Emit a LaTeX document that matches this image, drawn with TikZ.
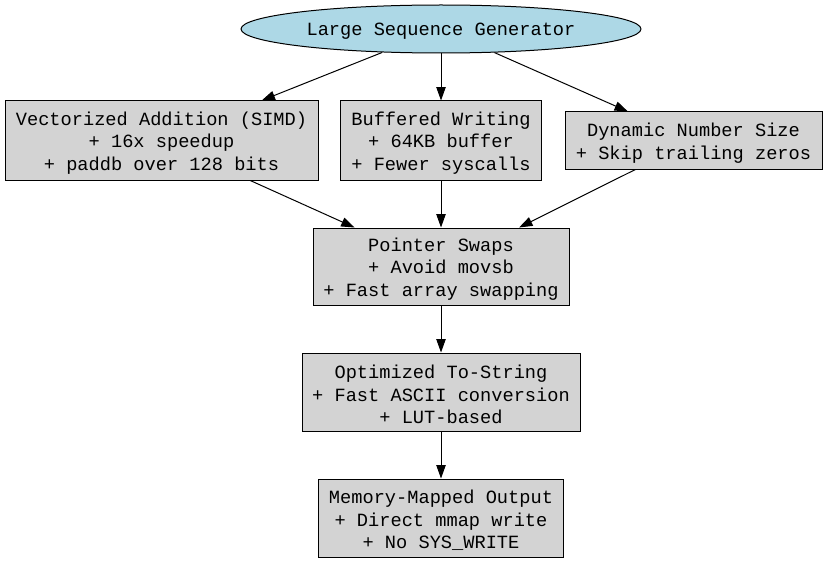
\documentclass[tikz,border=0pt]{standalone}
\usepackage{fontspec}
\newfontfamily\graphfont{Liberation Mono}
\usetikzlibrary{arrows.meta,shapes.geometric}

\definecolor{lightblue}{HTML}{ADD8E6}
\definecolor{lightgray}{HTML}{D3D3D3}

% taller first line, pushes the text block down a little
\newcommand{\topline}{\rule{0pt}{14pt}}

\tikzset{
    stage/.style={draw, fill=lightgray, line width=0.75pt, inner sep=0pt, align=center,
        font=\graphfont\fontsize{14}{16.8}\selectfont},
    source/.style={stage, ellipse, fill=lightblue,
        execute at begin node={\rule{0pt}{13pt}}},
    flow/.style={-{Triangle[length=10pt, width=7pt]}, line width=0.75pt},
}

\begin{document}
\begin{tikzpicture}[x=0.75pt, y=-0.75pt]
        \useasboundingbox (0, 0) rectangle (827, 563);

        % SOURCE
        \node[source, minimum width=300pt, minimum height=36pt] (gen) at (441, 29) {Large Sequence Generator};

        % OPTIMISATIONS
        \node[stage, minimum width=234.75pt, minimum height=59.25pt] (simd) at (161.5, 140.5) {\topline Vectorized Addition (SIMD)\\+ 16x speedup\\+ paddb over 128 bits};
        \node[stage, minimum width=150.75pt, minimum height=59.25pt] (buf) at (441, 140.5) {\topline Buffered Writing\\+ 64KB buffer\\+ Fewer syscalls};
        \node[stage, minimum width=192.75pt, minimum height=42.75pt] (dyn) at (693.5, 140.5) {\topline Dynamic Number Size\\+ Skip trailing zeros};

        % PIPELINE
        \node[stage, minimum width=192pt, minimum height=57.75pt] (swap) at (441, 266.5) {\topline Pointer Swaps\\+ Avoid movsb\\+ Fast array swapping};
        \node[stage, minimum width=208.5pt, minimum height=58.5pt] (tostr) at (441, 392) {\topline Optimized To-String\\+ Fast ASCII conversion\\+ LUT-based};
        \node[stage, minimum width=183.75pt, minimum height=58.5pt] (mmap) at (441, 518) {\topline Memory-Mapped Output\\+ Direct mmap write\\+ No SYS\_WRITE};

        \draw[flow] (gen) -- (simd);
        \draw[flow] (gen) -- (buf);
        \draw[flow] (gen) -- (dyn);
        \draw[flow] (simd) -- (swap);
        \draw[flow] (buf) -- (swap);
        \draw[flow] (dyn) -- (swap);
        \draw[flow] (swap) -- (tostr);
        \draw[flow] (tostr) -- (mmap);
    \end{tikzpicture}
\end{document}
